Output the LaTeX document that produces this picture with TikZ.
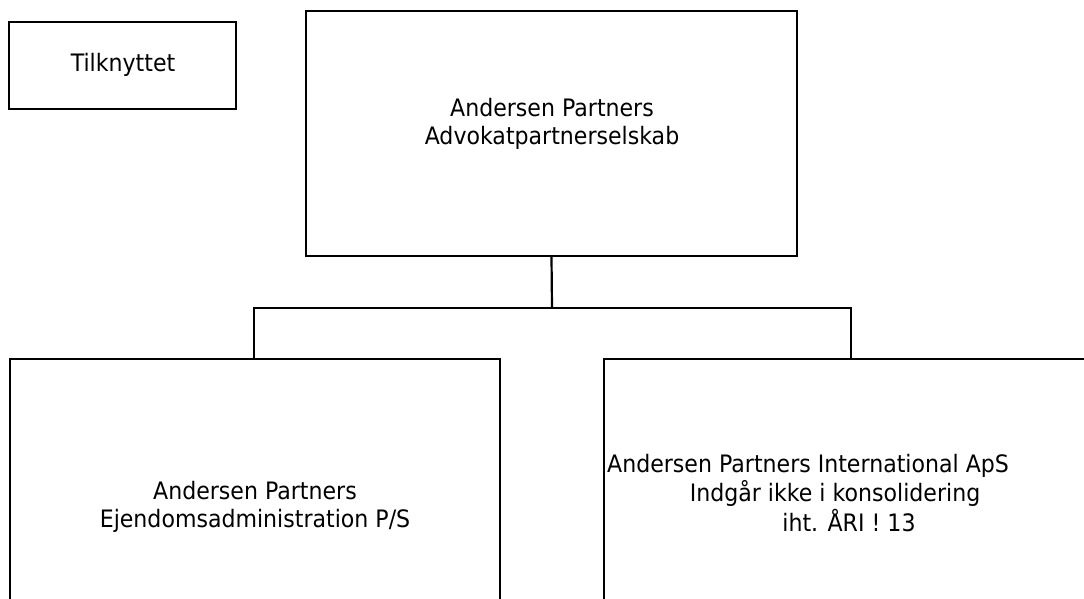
\documentclass[tikz,border=0pt]{standalone}
\usepackage{fontspec}
\setmainfont{DejaVu Sans}[FakeStretch=0.92]
\begin{document}
\begin{tikzpicture}[x=1pt,y=-1pt,
  box/.style={draw=black,line width=2.2pt,rectangle,inner sep=0pt},
  lbl/.style={font=\fontsize{24}{28}\selectfont,align=center,inner sep=0pt,text=black},
  conn/.style={draw=black,line width=2.2pt}]
\clip (0,0) rectangle (1084,599);
\fill[white] (0,0) rectangle (1084,599);
% boxes
\node[box,minimum width=227pt,minimum height=87pt] (tilk) at (122.5,65.5) {};
\node[box,minimum width=491pt,minimum height=245pt] (top) at (551.5,133.5) {};
\node[box,minimum width=490pt,minimum height=280pt] (left) at (255,499) {};
\node[box,minimum width=496pt,minimum height=280pt] (right) at (852,499) {};
% labels
\node[lbl] (tilkl) at (123,65) {Tilknyttet};
\node[lbl] (topl) at (552,124) {Andersen Partners\\Advokatpartnerselskab};
\node[lbl] (leftl) at (255,507) {Andersen Partners\\Ejendomsadministration P/S};
\node[lbl,anchor=west] (r1) at (607,466) {Andersen Partners International ApS};
\node[lbl] (r2) at (835,493) {Indgår ikke i konsolidering};
\node[lbl] (r3) at (849,521) {iht. ÅRI ! 13};
% connectors
\coordinate (bar) at (552,308);
\draw[conn] (top.south) -- (bar);
\draw[conn] (254,308) -- (851,308);
\draw[conn] (254,307) -- (254,359);
\draw[conn] (851,307) -- (851,359);
\end{tikzpicture}
\end{document}
